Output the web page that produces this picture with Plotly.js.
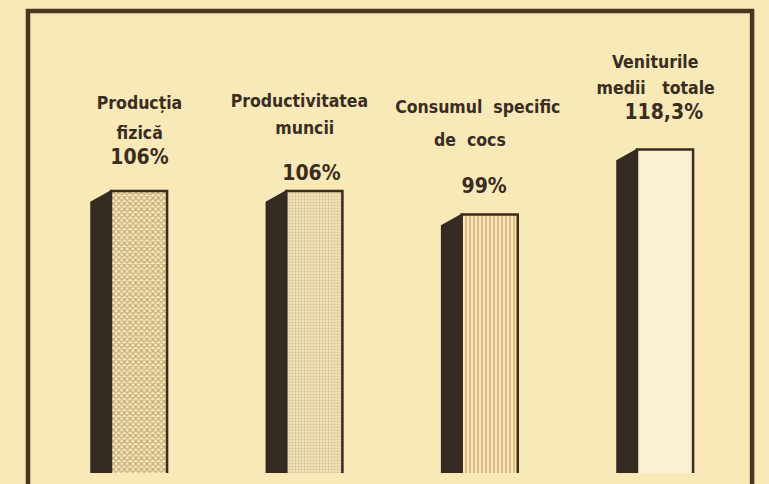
<!DOCTYPE html>
<html>
<head>
<meta charset="utf-8">
<script src="https://cdn.plot.ly/plotly-3.0.1.min.js"></script>
<style>
html,body{margin:0;padding:0;background:#f8e9b6;}
#chart{width:769px;height:484px;}
#chart .annotation-text{font-stretch:condensed;}
</style>
</head>
<body>
<div id="chart"></div>
<script>
// ---- data ----
const categories = ["Producția fizică", "Productivitatea muncii", "Consumul specific de cocs", "Veniturile medii totale"];
const values = [106, 106, 99, 118.3];
const valueLabels = ["106%", "106%", "99%", "118,3%"];
const labelLines = [
  ["Producția", "fizică"],
  ["Productivitatea", "muncii"],
  ["Consumul  specific", "de  cocs"],
  ["Veniturile", "medii   totale"]
];
const patternShapes = ["x", ".", "|", ""];

// ---- styling / geometry ----
const ink = "#3a2c1e";
const sideColor = "#342b23";
const frontBg = ["#c4a87c", "#d4c2a4", "#dcb585", "#fbf1d2"];
const frontFg = ["#2e241c", "#6a5e52", "#573c27", "#fbf1d2"];
const yMin = 22.3, yMax = 162.7;
const barW = 0.32, sideW = 0.114, slant = 3.3;
const xs = categories.map((c, i) => i);

const traces = [];
// side faces of the pseudo-3D boxes, computed from the values
values.forEach((v, i) => {
  const xl = xs[i] - barW / 2;
  traces.push({
    type: "scatter", mode: "lines", fill: "toself",
    x: [xl - sideW, xl - sideW, xl, xl, xl - sideW],
    y: [yMin - 5, v - slant, v, yMin - 5, yMin - 5],
    line: {color: sideColor, width: 1.5},
    fillcolor: sideColor, hoverinfo: "skip", showlegend: false
  });
});
// front faces
traces.push({
  type: "bar", x: xs, y: values, width: barW,
  marker: {
    color: frontBg,
    line: {color: ink, width: 2.5},
    pattern: {shape: patternShapes, bgcolor: frontBg, fgcolor: frontFg, size: [4, 3, 4, 4], solidity: [0.5, 0.45, 0.45, 0.3]}
  },
  hoverinfo: "skip", showlegend: false
});

const font = {family: "DejaVu Sans, Liberation Sans Narrow, sans-serif", color: ink, size: 17.5, weight: 700};
const pctFont = Object.assign({}, font, {size: 21});

// label placement (x in data units, y in paper units)
const linePos = [
  [[0, 0.782], [0, 0.719]],
  [[0.918, 0.786], [0.947, 0.729]],
  [[1.933, 0.774], [1.888, 0.704]],
  [[2.943, 0.869], [2.943, 0.814]]
];
const pctPos = [[0, 0.668], [0.981, 0.634], [1.968, 0.607], [2.994, 0.763]];

const annotations = [];
labelLines.forEach((lines, i) => {
  lines.forEach((t, j) => {
    annotations.push({xref: "x", yref: "paper", x: linePos[i][j][0], y: linePos[i][j][1],
      text: "<b>" + t + "</b>", showarrow: false, font: font, xanchor: "center", yanchor: "middle"});
  });
  annotations.push({xref: "x", yref: "paper", x: pctPos[i][0], y: pctPos[i][1],
    text: "<b>" + valueLabels[i] + "</b>", showarrow: false, font: pctFont, xanchor: "center", yanchor: "middle"});
});

const layout = {
  width: 769, height: 484,
  margin: {l: 0, r: 0, t: 0, b: 11, pad: 0},
  paper_bgcolor: "#f8e9b6", plot_bgcolor: "rgba(0,0,0,0)",
  xaxis: {range: [-0.793, 3.593], visible: false, fixedrange: true},
  yaxis: {range: [yMin, yMax], visible: false, fixedrange: true},
  showlegend: false,
  annotations: annotations,
  shapes: [{
    type: "rect", xref: "paper", yref: "paper",
    x0: 0.0364, x1: 0.978, y0: -0.2, y1: 0.977,
    line: {color: "#4a3520", width: 4.5}
  }]
};

Plotly.newPlot("chart", traces, layout, {displayModeBar: false, staticPlot: true});
</script>
</body>
</html>
